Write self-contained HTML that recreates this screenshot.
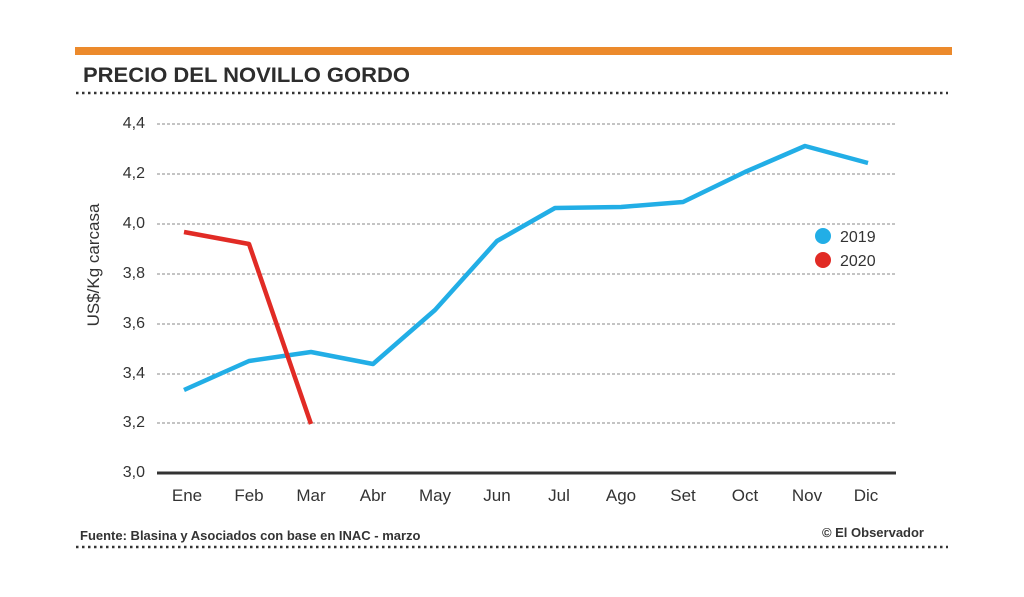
<!DOCTYPE html>
<html><head><meta charset="utf-8"><style>
html,body{margin:0;padding:0;background:#fff;}
svg{display:block;font-family:"Liberation Sans",sans-serif;}
</style></head><body>
<svg width="1024" height="597" viewBox="0 0 1024 597">
<rect x="75" y="47" width="877" height="8" fill="#ec8a2c"/>
<text x="83" y="82" font-size="21" font-weight="bold" fill="#2d2d2d" textLength="327" lengthAdjust="spacingAndGlyphs">PRECIO DEL NOVILLO GORDO</text>
<line x1="76" y1="93" x2="948" y2="93" stroke="#333" stroke-width="2.5" stroke-dasharray="2.5,3.5"/>
<g stroke="#888" stroke-width="1" stroke-dasharray="3,2">
<line x1="157" y1="124" x2="895" y2="124"/>
<line x1="157" y1="174" x2="895" y2="174"/>
<line x1="157" y1="224" x2="895" y2="224"/>
<line x1="157" y1="274" x2="895" y2="274"/>
<line x1="157" y1="324" x2="895" y2="324"/>
<line x1="157" y1="374" x2="895" y2="374"/>
<line x1="157" y1="423" x2="895" y2="423"/>
</g>
<line x1="157" y1="473" x2="896" y2="473" stroke="#333" stroke-width="3"/>
<g font-size="16" fill="#333" text-anchor="end">
<text x="145" y="128">4,4</text><text x="145" y="178">4,2</text><text x="145" y="228">4,0</text>
<text x="145" y="278">3,8</text><text x="145" y="328">3,6</text><text x="145" y="378">3,4</text>
<text x="145" y="427">3,2</text><text x="145" y="477">3,0</text>
</g>
<text transform="translate(99,265) rotate(-90)" font-size="17" fill="#333" text-anchor="middle">US$/Kg carcasa</text>
<g font-size="17" fill="#333" text-anchor="middle">
<text x="187" y="501">Ene</text><text x="249" y="501">Feb</text><text x="311" y="501">Mar</text>
<text x="373" y="501">Abr</text><text x="435" y="501">May</text><text x="497" y="501">Jun</text>
<text x="559" y="501">Jul</text><text x="621" y="501">Ago</text><text x="683" y="501">Set</text>
<text x="745" y="501">Oct</text><text x="807" y="501">Nov</text><text x="866" y="501">Dic</text>
</g>
<polyline fill="none" stroke="#22aee6" stroke-width="4.5" stroke-linejoin="round" points="184,390 249,361 311,352 373,364 435,310 497,241 555,208 621,207 683,202 745,172 805,146 868,163"/>
<polyline fill="none" stroke="#e12b25" stroke-width="4.5" stroke-linejoin="round" points="184,232 249,244 311,424"/>
<circle cx="823" cy="236" r="8" fill="#22aee6"/>
<circle cx="823" cy="260" r="8" fill="#e12b25"/>
<text x="840" y="242" font-size="16" fill="#333">2019</text>
<text x="840" y="266" font-size="16" fill="#333">2020</text>
<text x="80" y="540" font-size="13" font-weight="bold" fill="#333">Fuente: Blasina y Asociados con base en INAC - marzo</text>
<text x="924" y="537" font-size="13" font-weight="bold" fill="#333" text-anchor="end">© El Observador</text>
<line x1="76" y1="547" x2="948" y2="547" stroke="#333" stroke-width="2.5" stroke-dasharray="2.5,3.5"/>
</svg>
</body></html>
